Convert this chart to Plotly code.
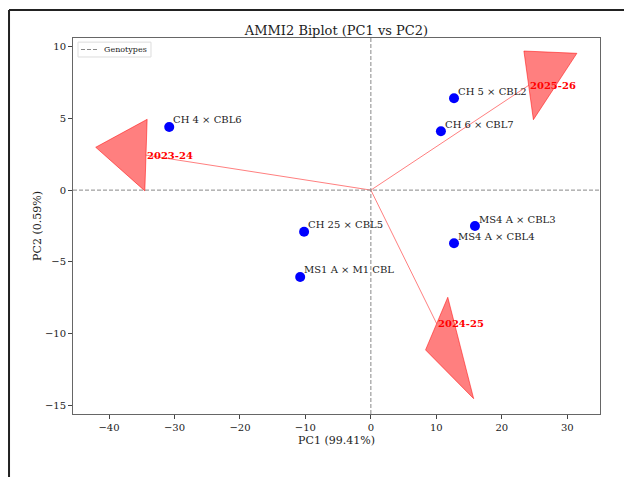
import plotly.graph_objects as go
import numpy as np

# Genotype scores
genotypes = ["CH 4 × CBL6", "CH 5 × CBL2", "CH 6 × CBL7", "CH 25 × CBL5",
             "MS1 A × M1 CBL", "MS4 A × CBL3", "MS4 A × CBL4"]
geno_pc1 = [-30.8, 12.7, 10.7, -10.2, -10.8, 15.9, 12.7]
geno_pc2 = [4.4, 6.4, 4.1, -2.9, -6.05, -2.5, -3.7]

# Environment vectors
environments = ["2023-24", "2024-25", "2025-26"]
env_pc1 = [-34.35, 10.05, 24.1]
env_pc2 = [2.44, -9.3, 7.3]

head_width = 5.0
head_length = 7.7

FONT = "DejaVu Serif"
DASH = "4px,2px"
fig = go.Figure()

# environment arrows (line + head triangle, computed in data units like matplotlib)
for name, ex, ey in zip(environments, env_pc1, env_pc2):
    fig.add_trace(go.Scatter(x=[0, ex], y=[0, ey], mode="lines",
                             line=dict(color="rgba(255,0,0,0.5)", width=1),
                             showlegend=False, hoverinfo="skip"))
    L = np.hypot(ex, ey)
    ux, uy = ex / L, ey / L
    px, py = -uy, ux
    tip = (ex + head_length * ux, ey + head_length * uy)
    b1 = (ex + head_width / 2 * px, ey + head_width / 2 * py)
    b2 = (ex - head_width / 2 * px, ey - head_width / 2 * py)
    fig.add_trace(go.Scatter(x=[b1[0], tip[0], b2[0], b1[0]],
                             y=[b1[1], tip[1], b2[1], b1[1]],
                             mode="lines", fill="toself",
                             fillcolor="rgba(255,0,0,0.5)",
                             line=dict(color="rgba(255,0,0,0.5)", width=1),
                             showlegend=False, hoverinfo="skip"))
    fig.add_annotation(x=ex, y=ey, text="<b>%s</b>" % name, showarrow=False,
                       xanchor="left", yanchor="middle", xshift=-1,
                       font=dict(family=FONT, size=10, color="red"))

# genotype points
fig.add_trace(go.Scatter(x=geno_pc1, y=geno_pc2, mode="markers",
                         marker=dict(color="blue", size=10),
                         showlegend=False))
for name, gx, gy in zip(genotypes, geno_pc1, geno_pc2):
    fig.add_annotation(x=gx, y=gy, text=name, showarrow=False,
                       xanchor="left", yanchor="middle", xshift=2, yshift=7,
                       font=dict(family=FONT, size=10, color="#222"))

# dashed zero lines
fig.add_shape(type="line", xref="paper", yref="y", x0=0, x1=1, y0=0, y1=0,
              line=dict(color="#888", width=1, dash=DASH))
fig.add_shape(type="line", xref="x", yref="paper", x0=0, x1=0, y0=0, y1=1,
              line=dict(color="#888", width=1, dash=DASH))

# legend box (drawn like matplotlib's small legend)
fig.add_shape(type="rect", xref="paper", yref="paper",
              x0=0.0095, x1=0.148, y0=0.9495, y1=0.989,
              line=dict(color="#ddd", width=1), fillcolor="white")
fig.add_shape(type="line", xref="paper", yref="paper",
              x0=0.0152, x1=0.0455, y0=0.9694, y1=0.9694,
              line=dict(color="#888", width=1, dash=DASH))
fig.add_annotation(x=0.0588, y=0.9694, xref="paper", yref="paper",
                   text="Genotypes", showarrow=False, xanchor="left",
                   yanchor="middle", xshift=-2,
                   font=dict(family=FONT, size=8, color="#222"))

# outer frame lines (screenshot border)
fig.add_shape(type="line", xref="paper", yref="paper",
              x0=-0.1214, x1=1.2, y0=1.0745, y1=1.0745,
              line=dict(color="#222", width=2))
fig.add_shape(type="line", xref="paper", yref="paper",
              x0=-0.1214, x1=-0.1214, y0=1.0745, y1=-0.3,
              line=dict(color="#222", width=2))

fig.update_layout(
    width=632, height=477,
    margin=dict(l=65, r=40, t=30, b=71),
    paper_bgcolor="white", plot_bgcolor="white",
    font=dict(family=FONT, size=10, color="#222"),
    title=dict(text="AMMI2 Biplot (PC1 vs PC2)", x=0.5, xref="paper",
               y=1, yref="paper", yanchor="bottom", pad=dict(b=3),
               font=dict(family=FONT, size=13, color="#222")),
    showlegend=False,
)
fig.update_xaxes(range=[-45.5, 35], tickvals=[-40, -30, -20, -10, 0, 10, 20, 30],
                 ticks="outside", ticklen=4, tickcolor="#444",
                 showline=True, linecolor="#666", mirror=True, showgrid=False,
                 zeroline=False, tickfont=dict(size=10),
                 title=dict(text="PC1 (99.41%)", font=dict(size=11), standoff=4))
fig.update_yaxes(range=[-15.6, 10.6], tickvals=[-15, -10, -5, 0, 5, 10],
                 ticks="outside", ticklen=4, tickcolor="#444",
                 showline=True, linecolor="#666", mirror=True, showgrid=False,
                 zeroline=False, tickfont=dict(size=10),
                 title=dict(text="PC2 (0.59%)", font=dict(size=11), standoff=1))

fig.write_html("out.html")
